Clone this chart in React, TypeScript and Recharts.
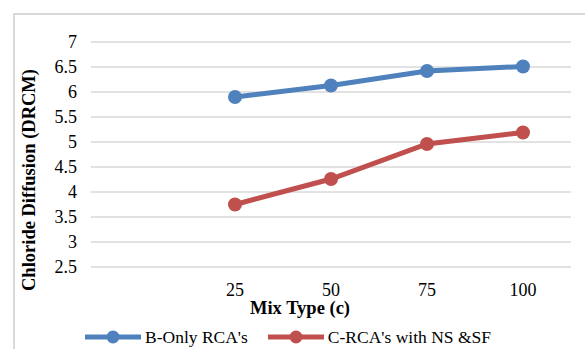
import React from 'react';
import { LineChart, Line, XAxis, YAxis, CartesianGrid, Legend, Label } from 'recharts';

const categories = ['', '25', '50', '75', '100'];
const seriesB = [null, 5.9, 6.13, 6.42, 6.51];
const seriesC = [null, 3.75, 4.26, 4.96, 5.19];
const yTicks = [2.5, 3, 3.5, 4, 4.5, 5, 5.5, 6, 6.5, 7];
const seriesNames = ["B-Only RCA's", "C-RCA's with NS &SF"];
const colors = ['#4f81bd', '#c0504d'];

const data = categories.map((c, i) => ({ cat: c, b: seriesB[i], c: seriesC[i] }));

const FONT = '"Liberation Serif", "Times New Roman", serif';

const LegendContent = () => (
  <div style={{ display: 'flex', alignItems: 'center', paddingLeft: 85, fontFamily: FONT, fontSize: 17.5, color: '#000' }}>
    {seriesNames.map((n, i) => (
      <div key={n} style={{ display: 'flex', alignItems: 'center', marginRight: i === 0 ? 20 : 0 }}>
        <svg width={56} height={16} style={{ display: 'block' }}>
          <line x1={0} y1={8} x2={56} y2={8} stroke={colors[i]} strokeWidth={5} strokeLinecap="round" />
          <circle cx={28} cy={8} r={6.5} fill={colors[i]} />
        </svg>
        <span style={{ marginLeft: 4, lineHeight: '20px' }}>{n}</span>
      </div>
    ))}
  </div>
);

export default function App() {
  return (
    <div style={{ position: 'fixed', left: 0, top: 0, width: 585, height: 349, overflow: 'hidden', background: '#fff' }}>
      <div style={{ position: 'absolute', left: 13, top: 13, width: 640, height: 420, border: '2px solid #d9d9d9' }} />
      <div style={{ position: 'absolute', left: 0, top: 0 }}>
        <LineChart width={585} height={349} data={data} margin={{ top: 42, right: 14, left: 0, bottom: 0 }}>
          <CartesianGrid vertical={false} stroke="#d9d9d9" strokeWidth={1.5} />
          <XAxis
            dataKey="cat"
            height={82}
            padding={{ left: 48, right: 48 }}
            axisLine={false}
            tickLine={false}
            tickSize={0}
            tickMargin={16}
            interval={0}
            tick={{ fontSize: 18, fill: '#000', fontFamily: FONT }}
          >
            <Label
              content={() => (
                <text x={300} y={314} textAnchor="middle" fontFamily={FONT} fontWeight="bold" fontSize={18.5} fill="#000">
                  Mix Type (c)
                </text>
              )}
            />
          </XAxis>
          <YAxis
            width={91}
            domain={[2.5, 7]}
            ticks={yTicks}
            axisLine={false}
            tickLine={false}
            tickSize={0}
            tickMargin={14}
            interval={0}
            tick={{ fontSize: 18, fill: '#000', fontFamily: FONT }}
          >
            <Label
              content={() => (
                <text
                  x={0}
                  y={0}
                  transform="translate(35,180) rotate(-90)"
                  textAnchor="middle"
                  fontFamily={FONT}
                  fontWeight="bold"
                  fontSize={18.5}
                  fill="#000"
                >
                  Chloride Diffusion (DRCM)
                </text>
              )}
            />
          </YAxis>
          <Legend
            verticalAlign="middle"
            align="center"
            layout="horizontal"
            content={() => <LegendContent />}
            wrapperStyle={{ top: 327, left: 0, width: 585, height: 20 }}
          />
          <Line
            dataKey="b"
            name={seriesNames[0]}
            stroke={colors[0]}
            strokeWidth={5}
            dot={{ r: 7, fill: colors[0], stroke: colors[0], strokeWidth: 0 }}
            activeDot={false}
            isAnimationActive={false}
          />
          <Line
            dataKey="c"
            name={seriesNames[1]}
            stroke={colors[1]}
            strokeWidth={5}
            dot={{ r: 7, fill: colors[1], stroke: colors[1], strokeWidth: 0 }}
            activeDot={false}
            isAnimationActive={false}
          />
        </LineChart>
      </div>
    </div>
  );
}
